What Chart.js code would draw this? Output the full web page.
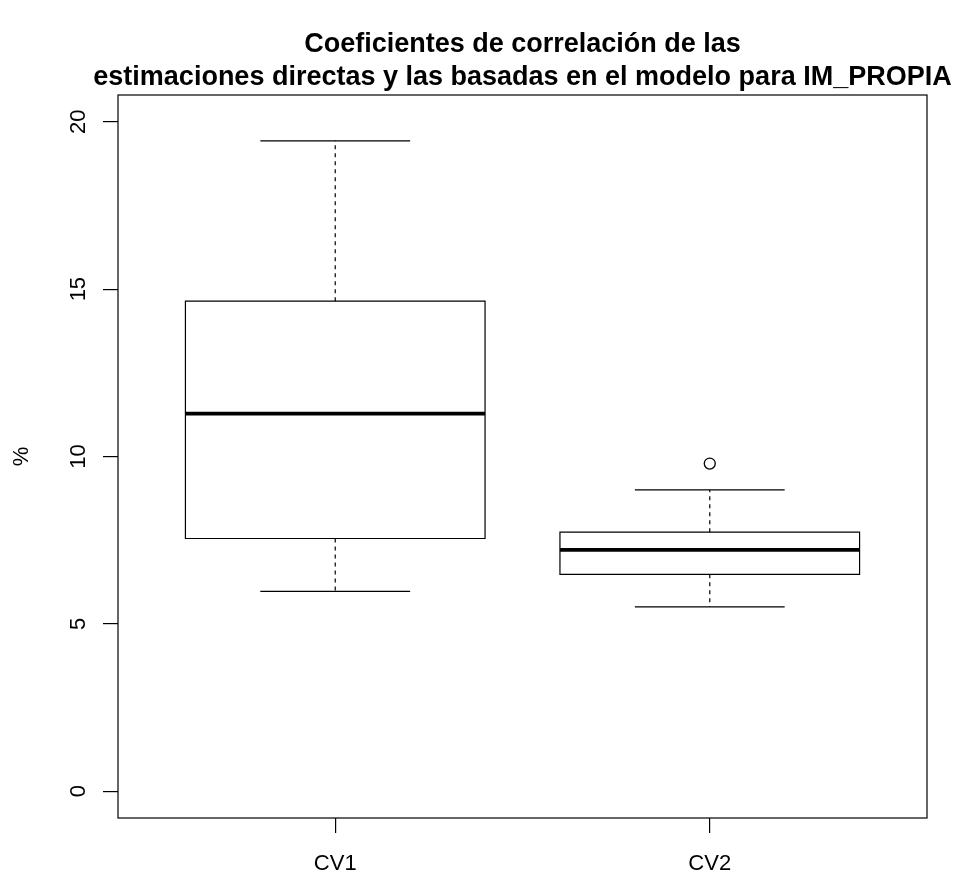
<!DOCTYPE html>
<html>
<head>
<meta charset="utf-8">
<script src="https://cdn.jsdelivr.net/npm/chart.js@4/dist/chart.umd.min.js"></script>
<style>
  html, body { margin: 0; padding: 0; background: #ffffff; }
  #c { display: block; }
</style>
</head>
<body>
<canvas id="c" width="958" height="873"></canvas>
<script>
// ---- data ----
const categories = ['CV1', 'CV2'];
const whiskerLow  = [5.97, 5.51];
const q1          = [7.55, 6.48];
const median      = [11.28, 7.21];
const q3          = [14.64, 7.74];
const whiskerHigh = [19.43, 9.00];
const outliers    = [[], [9.79]];
const yTicks = [0, 5, 10, 15, 20];
const titleLines = ['Coeficientes de correlación de las',
                    'estimaciones directas y las basadas en el modelo para IM_PROPIA'];
const yTitle = '%';

const FONT = '"Liberation Sans", Arial, Helvetica, sans-serif';

const outlierPoints = [];
outliers.forEach((arr, i) => arr.forEach(v => outlierPoints.push({ x: i + 1, y: v })));

const boxPlugin = {
  id: 'boxPlugin',
  beforeDatasetsDraw(chart) {
    const ctx = chart.ctx;
    const xs = chart.scales.x, ys = chart.scales.y;
    ctx.save();
    ctx.strokeStyle = '#000';
    categories.forEach((c, i) => {
      const cx = xs.getPixelForValue(i + 1);
      const bl = xs.getPixelForValue(i + 1 - 0.4);
      const br = xs.getPixelForValue(i + 1 + 0.4);
      const cl = xs.getPixelForValue(i + 1 - 0.2);
      const cr = xs.getPixelForValue(i + 1 + 0.2);
      const yLo = ys.getPixelForValue(whiskerLow[i]);
      const yQ1 = ys.getPixelForValue(q1[i]);
      const yMed = ys.getPixelForValue(median[i]);
      const yQ3 = ys.getPixelForValue(q3[i]);
      const yHi = ys.getPixelForValue(whiskerHigh[i]);
      // whiskers (dashed)
      ctx.lineWidth = 1.2;
      ctx.setLineDash([4, 4]);
      ctx.beginPath();
      ctx.moveTo(cx, yQ3); ctx.lineTo(cx, yHi);
      ctx.moveTo(cx, yQ1); ctx.lineTo(cx, yLo);
      ctx.stroke();
      ctx.setLineDash([]);
      // caps
      ctx.beginPath();
      ctx.moveTo(cl, yHi); ctx.lineTo(cr, yHi);
      ctx.moveTo(cl, yLo); ctx.lineTo(cr, yLo);
      ctx.stroke();
      // box
      ctx.beginPath();
      ctx.rect(bl, yQ3, br - bl, yQ1 - yQ3);
      ctx.stroke();
      // median
      ctx.lineWidth = 3.6;
      ctx.beginPath();
      ctx.moveTo(bl, yMed); ctx.lineTo(br, yMed);
      ctx.stroke();
    });
    ctx.restore();
  },
  afterDraw(chart) {
    const ctx = chart.ctx;
    const a = chart.chartArea;
    const xs = chart.scales.x, ys = chart.scales.y;
    ctx.save();
    // frame
    ctx.strokeStyle = '#000';
    ctx.lineWidth = 1.2;
    ctx.strokeRect(a.left, a.top, a.right - a.left, a.bottom - a.top);
    ctx.fillStyle = '#000';
    // title
    ctx.font = 'bold 27px ' + FONT;
    ctx.textAlign = 'center';
    ctx.textBaseline = 'alphabetic';
    const tx = (a.left + a.right) / 2;
    ctx.fillText(titleLines[0], tx, 52);
    ctx.fillText(titleLines[1], tx, 85);
    // x labels
    ctx.font = '22px ' + FONT;
    categories.forEach((c, i) => {
      ctx.fillText(c, xs.getPixelForValue(i + 1), 870);
    });
    // y labels (rotated)
    yTicks.forEach(v => {
      const y = ys.getPixelForValue(v);
      ctx.save();
      ctx.translate(85, y);
      ctx.rotate(-Math.PI / 2);
      ctx.textAlign = 'center';
      ctx.fillText(String(v), 0, 0);
      ctx.restore();
    });
    // y title
    ctx.save();
    ctx.translate(28, (a.top + a.bottom) / 2);
    ctx.rotate(-Math.PI / 2);
    ctx.textAlign = 'center';
    ctx.fillText(yTitle, 0, 0);
    ctx.restore();
    ctx.restore();
  }
};

new Chart(document.getElementById('c'), {
  type: 'scatter',
  data: {
    datasets: [{
      data: outlierPoints,
      pointStyle: 'circle',
      pointRadius: 5.5,
      borderColor: '#000',
      backgroundColor: 'rgba(0,0,0,0)',
      borderWidth: 1.3
    }]
  },
  options: {
    responsive: false,
    animation: false,
    events: [],
    layout: { padding: { top: 95, right: 31, left: 0, bottom: 0 } },
    plugins: { legend: { display: false }, tooltip: { enabled: false }, title: { display: false } },
    scales: {
      x: {
        type: 'linear',
        min: 0.42, max: 2.58,
        afterBuildTicks: s => { s.ticks = categories.map((c, i) => ({ value: i + 1 })); },
        ticks: { display: false },
        grid: { drawOnChartArea: false, drawTicks: true, tickLength: 15, color: '#000', lineWidth: 1.2 },
        border: { display: false },
        afterFit: s => { s.height = 55; }
      },
      y: {
        type: 'linear',
        min: -0.8, max: 20.8,
        afterBuildTicks: s => { s.ticks = yTicks.map(v => ({ value: v })); },
        ticks: { display: false },
        grid: { drawOnChartArea: false, drawTicks: true, tickLength: 15, color: '#000', lineWidth: 1.2 },
        border: { display: false },
        afterFit: s => { s.width = 118; }
      }
    }
  },
  plugins: [boxPlugin]
});
</script>
</body>
</html>
